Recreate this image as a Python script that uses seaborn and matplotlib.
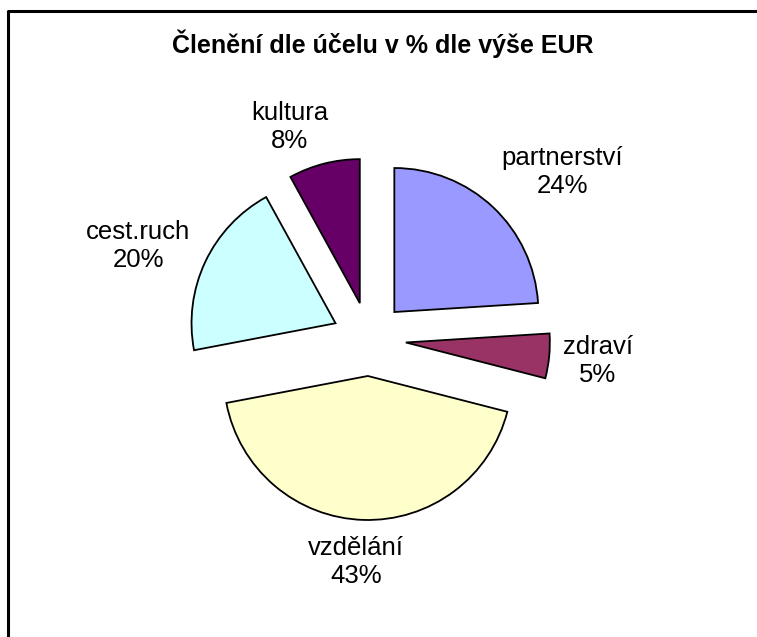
import matplotlib
matplotlib.use("Agg")
import matplotlib.pyplot as plt
import seaborn as sns

# podil dle ucelu (% z EUR)
categories = ["partnerství", "zdraví", "vzdělání", "cest.ruch", "kultura"]
shares = [24, 5, 43, 20, 8]
colors = ["#9999FF", "#993366", "#FFFFCC", "#CCFFFF", "#660066"]

sns.set_style("white")
plt.rcParams['font.family'] = ['Liberation Sans', 'DejaVu Sans']
plt.rcParams['text.color'] = 'black'

W, H = 757, 637
R = 144  # pie radius in px
fig = plt.figure(figsize=(W / 100, H / 100), dpi=100)
ax = fig.add_axes([0, 0, 1, 1])

# pie in pixel units, y measured from the bottom; explode is absolute here
ax.pie(shares, colors=sns.color_palette(colors), explode=[37] * len(shares),
       startangle=90, counterclock=False, radius=R, center=(369, H - 339),
       wedgeprops=dict(edgecolor='black', linewidth=1.3), frame=True)
ax.set_xlim(0, W)
ax.set_ylim(0, H)
ax.set_aspect('equal')
ax.axis('off')

# label positions (px, from top-left) like in excel
label_pos = {
    "partnerství": (562, 172),
    "zdraví": (598, 361),
    "vzdělání": (356, 562),
    "cest.ruch": (138, 246),
    "kultura": (290, 127),
}
for cat, v in zip(categories, shares):
    x, y = label_pos[cat]
    ax.text(x, H - y, f"{cat}\n{v}%", ha='center', va='center',
            fontsize=18.5, linespacing=1.25, color='black')

ax.text(383, H - 44, "Členění dle účelu v % dle výše EUR", ha='center', va='center',
        fontsize=18, fontweight='bold', color='black')

# chart area border (only top and left visible)
ax.plot([8, 8, W], [0, H - 11, H - 11], color='black', lw=2.2, clip_on=False)

fig.savefig("out.png", dpi=100)
